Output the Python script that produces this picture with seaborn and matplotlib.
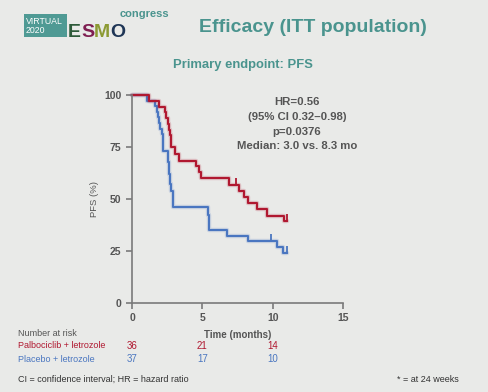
import matplotlib
matplotlib.use('Agg')
import matplotlib.pyplot as plt
import matplotlib.transforms as mtransforms
from matplotlib.patches import Rectangle
import seaborn as sns
import pandas as pd

# Kaplan-Meier step data (months, PFS %)
palbo_time = [0, 1.23, 1.94, 2.35, 2.45, 2.55, 2.62, 2.68, 2.75, 3.05, 3.35, 4.55, 4.75, 4.9,
              6.92, 7.63, 7.96, 8.27, 8.91, 9.57, 10.82, 11.03]
palbo_pfs = [100, 97.2, 94.4, 91.7, 88.9, 86.1, 83.3, 80.6, 75.0, 71.6, 68.5, 65.7, 63.0, 60.0,
             56.9, 54.0, 51.0, 48.0, 45.0, 42.0, 39.2, 39.2]
placebo_time = [0, 1.09, 1.6, 1.75, 1.85, 1.95, 2.0, 2.1, 2.2, 2.55, 2.62, 2.68, 2.75, 2.92,
                5.43, 5.5, 6.78, 8.27, 10.33, 10.76, 11.04]
placebo_pfs = [100, 97.3, 94.6, 91.9, 89.2, 86.5, 83.8, 81.1, 73.0, 67.6, 62.2, 57.0, 54.0, 46.0,
               42.5, 35.1, 32.4, 29.7, 26.8, 24.0, 24.0]
palbo_cens_t = [7.39, 11.03]
palbo_cens_y = [56.9, 39.2]
placebo_cens_t = [9.86, 11.04]
placebo_cens_y = [29.7, 24.0]

risk_times = [0, 5, 10]
palbo_risk = [36, 21, 14]
placebo_risk = [37, 17, 10]

RED = '#b01830'
BLUE = '#4a76c0'
TEAL = '#4a948e'
GREY = '#555555'
BG = '#e9eae8'

sns.set_style('ticks')
plt.rcParams['font.family'] = ['Liberation Sans', 'DejaVu Sans']

fig = plt.figure(figsize=(4.88, 3.92), dpi=100, facecolor=BG)
ax = fig.add_axes([132 / 488, 1 - 303 / 392, 211 / 488, 208 / 392])
ax.set_facecolor(BG)

df_p = pd.DataFrame({'t': palbo_time, 'pfs': palbo_pfs})
df_c = pd.DataFrame({'t': placebo_time, 'pfs': placebo_pfs})

# soft halo then main line
for df, col in [(df_c, BLUE), (df_p, RED)]:
    sns.lineplot(data=df, x='t', y='pfs', drawstyle='steps-post', color=col,
                 lw=3.2, alpha=0.2, ax=ax, clip_on=False)
    sns.lineplot(data=df, x='t', y='pfs', drawstyle='steps-post', color=col,
                 lw=1.5, ax=ax, clip_on=False)

sns.scatterplot(x=palbo_cens_t, y=[v + 1.5 for v in palbo_cens_y],
                marker='|', s=40, color=RED, linewidth=1.3, ax=ax, clip_on=False)
sns.scatterplot(x=placebo_cens_t, y=[v + 1.5 for v in placebo_cens_y],
                marker='|', s=40, color=BLUE, linewidth=1.3, ax=ax, clip_on=False)

ax.set_xlim(0, 15)
ax.set_ylim(0, 100)
ax.set_xticks([0, 5, 10, 15])
ax.set_yticks([0, 25, 50, 75, 100])
sns.despine(ax=ax)
for s in ['left', 'bottom']:
    ax.spines[s].set_color('#7a7a7a')
    ax.spines[s].set_linewidth(1.2)
ax.tick_params(colors='#7a7a7a', labelcolor=GREY, length=4, width=1.2, labelsize=7.5)
for lbl in ax.get_xticklabels() + ax.get_yticklabels():
    lbl.set_fontweight('bold')
ax.set_xlabel('Time (months)', fontsize=7, fontweight='bold', color=GREY, labelpad=5)
ax.set_ylabel('PFS (%)', fontsize=6.8, color=GREY, labelpad=4)

annot = 'HR=0.56\n(95% CI 0.32\u20130.98)\np=0.0376\nMedian: 3.0 vs. 8.3 mo'
fig.text(297 / 488, 1 - 97 / 392, annot, ha='center', va='top', fontsize=8.2,
         fontweight='bold', color=GREY, linespacing=1.6)

# titles
fig.text(313 / 488, 1 - 28 / 392, 'Efficacy (ITT population)', ha='center', va='center',
         fontsize=14, fontweight='bold', color=TEAL)
fig.text(243 / 488, 1 - 65 / 392, 'Primary endpoint: PFS', ha='center', va='center',
         fontsize=9.4, fontweight='bold', color=TEAL)

# logo
fig.patches.append(Rectangle((24 / 488, 1 - 37 / 392), 43 / 488, 23 / 392,
                             transform=fig.transFigure, facecolor='#4f9a94', edgecolor='none'))
fig.text(26 / 488, 1 - 26 / 392, 'VIRTUAL\n2020', ha='left', va='center', fontsize=6.3,
         color='white', linespacing=0.9)
for letter, x, col in [('E', 68, '#2e5b3a'), ('S', 81, '#7f1f52'), ('M', 94, '#8c9a33'),
                       ('O', 110, '#1f3656')]:
    fig.text(x / 488, 1 - 37 / 392, letter, ha='left', va='baseline', fontsize=14,
             fontweight='bold', color=col)
fig.text(120 / 488, 1 - 14 / 392, 'congress', ha='left', va='center', fontsize=8,
         fontweight='bold', color=TEAL)

# number at risk
fs = 6.5
fig.text(18 / 488, 1 - 333 / 392, 'Number at risk', ha='left', va='center', fontsize=fs,
         color=GREY)
fig.text(18 / 488, 1 - 346 / 392, 'Palbociclib + letrozole', ha='left', va='center',
         fontsize=fs, color=RED)
fig.text(18 / 488, 1 - 359 / 392, 'Placebo + letrozole', ha='left', va='center',
         fontsize=fs, color=BLUE)
trans = mtransforms.blended_transform_factory(ax.transData, fig.transFigure)
for t, a, b in zip(risk_times, palbo_risk, placebo_risk):
    ax.text(t, 1 - 346 / 392, str(a), transform=trans, ha='center', va='center',
            fontsize=7, color=RED)
    ax.text(t, 1 - 359 / 392, str(b), transform=trans, ha='center', va='center',
            fontsize=7, color=BLUE)

fig.text(18 / 488, 1 - 379 / 392, 'CI = confidence interval; HR = hazard ratio', ha='left',
         va='center', fontsize=fs, color='#333333')
fig.text(459 / 488, 1 - 379 / 392, '* = at 24 weeks', ha='right', va='center',
         fontsize=fs, color='#333333')

fig.savefig('out.png', dpi=100, facecolor=BG)
